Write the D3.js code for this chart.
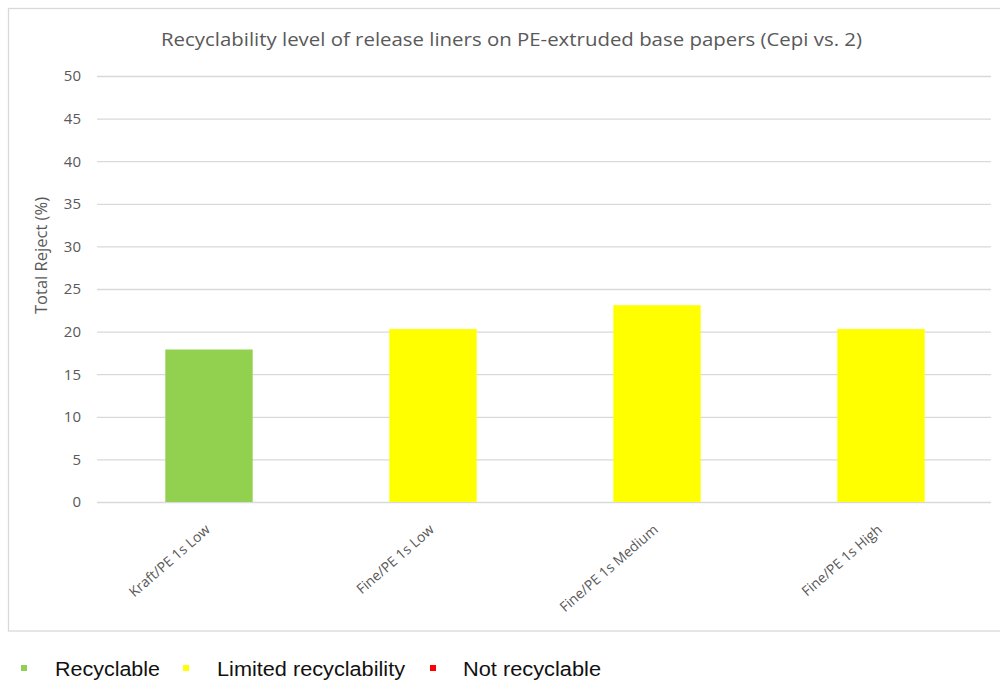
<!DOCTYPE html>
<html><head><meta charset="utf-8">
<script src="https://cdn.jsdelivr.net/npm/d3@7"></script>
<style>html,body{margin:0;padding:0;background:#fff;}svg{display:block;}</style>
</head><body>
<script>
const categories = ["Kraft/PE 1s Low", "Fine/PE 1s Low", "Fine/PE 1s Medium", "Fine/PE 1s High"];
const values = [17.9, 20.3, 23.1, 20.3];
const barClass = ["Recyclable", "Limited recyclability", "Limited recyclability", "Limited recyclability"];
const yTicks = [0, 5, 10, 15, 20, 25, 30, 35, 40, 45, 50];
const legendLabels = ["Recyclable", "Limited recyclability", "Not recyclable"];
const legendColors = ["#92D050", "#FFFF00", "#FF0000"];
const titleText = "Recyclability level of release liners on PE-extruded base papers (Cepi vs. 2)";
const yTitle = "Total Reject (%)";

const W = 1000, H = 682;
const svg = d3.select("body").append("svg").attr("width", W).attr("height", H);
const color = d3.scaleOrdinal().domain(legendLabels).range(legendColors);

// chart border
svg.append("rect").attr("x", 8.5).attr("y", 8.5).attr("width", 1000).attr("height", 622.5)
  .attr("fill", "none").attr("stroke", "#d9d9d9").attr("stroke-width", 1.3);

const y = d3.scaleLinear().domain([0, 50]).range([502, 76]);
const x = d3.scaleBand().domain(categories).range([97, 993]).paddingInner(0.61).paddingOuter(0.305);

// gridlines + tick labels via axis
const yAxis = svg.append("g").attr("transform", "translate(97,0)")
  .call(d3.axisLeft(y).tickValues(yTicks).tickSize(-894).tickPadding(16).tickFormat(d3.format("d")));
yAxis.select(".domain").remove();
yAxis.selectAll(".tick line").attr("stroke", "#d9d9d9").attr("stroke-width", 1.3);
yAxis.selectAll(".tick text").attr("fill", "#595959").style("font-family", "'Open Sans'").style("font-size", "15px");

// bars
svg.append("g").selectAll("rect").data(values).join("rect")
  .attr("x", (d, i) => x(categories[i]))
  .attr("width", x.bandwidth())
  .attr("y", d => y(d))
  .attr("height", d => y(0) - y(d))
  .attr("fill", (d, i) => color(barClass[i]));

// x labels
svg.append("g").selectAll("text").data(categories).join("text")
  .attr("transform", d => `translate(${x(d) + x.bandwidth() / 2 + 2},531) rotate(-41)`)
  .attr("text-anchor", "end")
  .attr("fill", "#595959")
  .style("font-family", "'Open Sans'").style("font-size", "14px")
  .text(d => d);

// title
svg.append("text").attr("x", 511.5).attr("y", 46).attr("text-anchor", "middle")
  .attr("fill", "#595959").style("font-family", "'Open Sans'").style("font-size", "19px")
  .attr("textLength", 701).attr("lengthAdjust", "spacingAndGlyphs")
  .text(titleText);

// y title
svg.append("text").attr("transform", "translate(41,255.5) rotate(-90)")
  .attr("text-anchor", "middle").attr("dy", "0.35em")
  .attr("fill", "#595959").style("font-family", "'Open Sans'").style("font-size", "16px")
  .attr("textLength", 117).attr("lengthAdjust", "spacingAndGlyphs")
  .text(yTitle);

// legend
const legX = [21, 183, 430];
const legTX = [55, 217, 463];
const legLen = [105, 188, 138];
const leg = svg.append("g");
leg.selectAll("rect").data(legendLabels).join("rect")
  .attr("x", (d, i) => legX[i]).attr("y", 665).attr("width", 6).attr("height", 6)
  .attr("fill", d => color(d));
leg.selectAll("text").data(legendLabels).join("text")
  .attr("x", (d, i) => legTX[i]).attr("y", 676)
  .attr("fill", "#111").style("font-family", "'Liberation Sans'").style("font-size", "20px")
  .attr("textLength", (d, i) => legLen[i]).attr("lengthAdjust", "spacingAndGlyphs")
  .text(d => d);
</script>
</body></html>
